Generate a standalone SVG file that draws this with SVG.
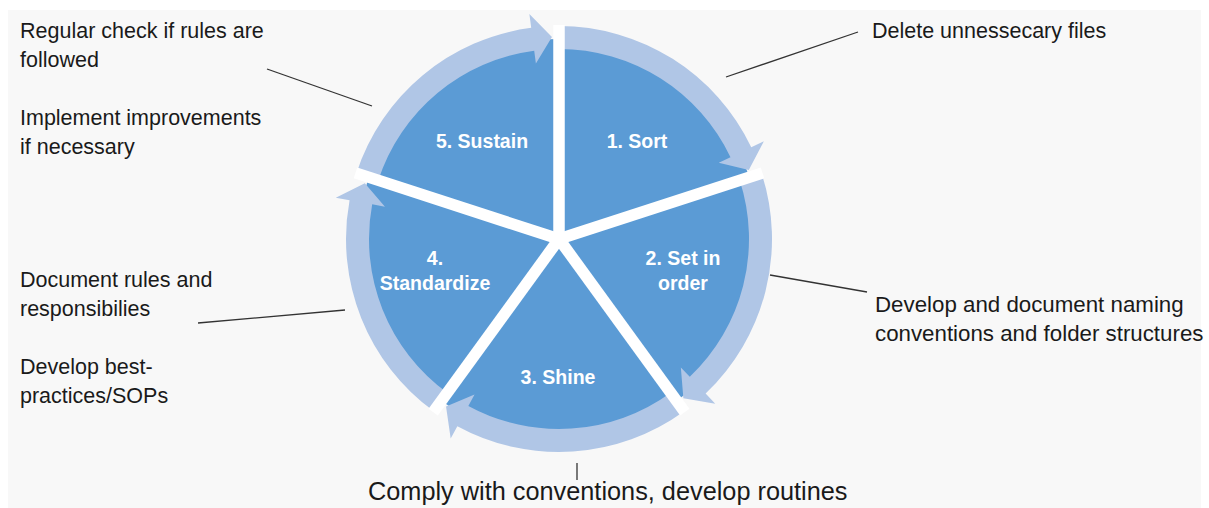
<svg xmlns="http://www.w3.org/2000/svg" width="1209" height="508" viewBox="0 0 1209 508">
<defs>
<style>
.txt{font-family:"Liberation Sans",Arial,sans-serif;font-size:21.5px;fill:#1a1a1a}
.txt2{font-family:"Liberation Sans",Arial,sans-serif;font-size:22.3px;fill:#1a1a1a}
.big{font-family:"Liberation Sans",Arial,sans-serif;font-size:25.3px;fill:#1a1a1a}
.lbl{font-family:"Liberation Sans",Arial,sans-serif;font-size:19.5px;font-weight:bold;fill:#ffffff;text-anchor:middle}
.ring{fill:#b0c6e6}
.lead{stroke:#333333;stroke-width:1.3;fill:none}
.gap{stroke:#ffffff;stroke-width:11.5;stroke-linecap:butt}
</style>
</defs>
<rect x="0" y="0" width="1209" height="508" fill="#ffffff"/>
<rect x="8" y="10" width="1193" height="498" fill="#f8f8f8"/>
<g id="pie">
<circle cx="559" cy="239" r="200" fill="#5b9bd5"/>
</g>
<g id="arrows">
<path class="ring" d="M559,26 A213,213 0 0 1 751.25,147.30 L763.89,141.27 L748.82,169.91 L718.76,162.80 L730.49,157.20 A190,190 0 0 0 559,49 Z"/>
<path class="ring" d="M761.58,173.18 A213,213 0 0 1 705.62,393.50 L715.26,403.66 L683.36,398.18 L680.84,367.39 L689.79,376.82 A190,190 0 0 0 739.70,180.29 Z"/>
<path class="ring" d="M684.20,411.32 A213,213 0 0 1 457.36,426.19 L450.68,438.49 L446.04,406.47 L474.54,394.55 L468.34,405.98 A190,190 0 0 0 670.68,392.71 Z"/>
<path class="ring" d="M433.80,411.32 A213,213 0 0 1 349.57,200.18 L335.80,197.63 L364.83,183.32 L384.96,206.74 L372.18,204.37 A190,190 0 0 0 447.32,392.71 Z"/>
<path class="ring" d="M356.42,173.18 A213,213 0 0 1 531.20,27.82 L529.37,13.94 L551.95,37.12 L535.90,63.51 L534.20,50.63 A190,190 0 0 0 378.30,180.29 Z"/>
</g>
<g id="gaps">
<line class="gap" x1="559" y1="239" x2="559" y2="25"/>
<line class="gap" x1="559" y1="239" x2="762.5" y2="172.9"/>
<line class="gap" x1="559" y1="239" x2="684.8" y2="412.1"/>
<line class="gap" x1="559" y1="239" x2="433.2" y2="412.1"/>
<line class="gap" x1="559" y1="239" x2="355.5" y2="172.9"/>
</g>
<g id="node-sort"><text class="lbl" x="637" y="148">1. Sort</text></g>
<g id="node-set"><text class="lbl" x="683" y="265">2. Set in</text><text class="lbl" x="683" y="290">order</text></g>
<g id="node-shine"><text class="lbl" x="558" y="384">3. Shine</text></g>
<g id="node-standardize"><text class="lbl" x="435" y="265">4.</text><text class="lbl" x="435" y="290">Standardize</text></g>
<g id="node-sustain"><text class="lbl" x="482" y="148">5. Sustain</text></g>
<g id="connectors">
<line class="lead" x1="726" y1="77" x2="858" y2="32"/>
<line class="lead" x1="770" y1="275" x2="867" y2="292"/>
<line class="lead" x1="577" y1="463" x2="577" y2="480"/>
<line class="lead" x1="198" y1="323" x2="345" y2="310"/>
<line class="lead" x1="267" y1="69" x2="372" y2="106"/>
</g>
<g id="note-sort"><text class="txt" x="872" y="38">Delete unnessecary files</text></g>
<g id="note-set"><text class="txt2" x="875" y="312">Develop and document naming</text><text class="txt2" x="875" y="341">conventions and folder structures</text></g>
<g id="note-shine"><text class="big" x="368" y="500">Comply with conventions, develop routines</text></g>
<g id="note-standardize"><text class="txt" x="20" y="287">Document rules and</text><text class="txt" x="20" y="316">responsibilies</text><text class="txt" x="20" y="374">Develop best-</text><text class="txt" x="20" y="403">practices/SOPs</text></g>
<g id="note-sustain"><text class="txt" x="20" y="38">Regular check if rules are</text><text class="txt" x="20" y="67">followed</text><text class="txt" x="20" y="125">Implement improvements</text><text class="txt" x="20" y="154">if necessary</text></g>
</svg>
